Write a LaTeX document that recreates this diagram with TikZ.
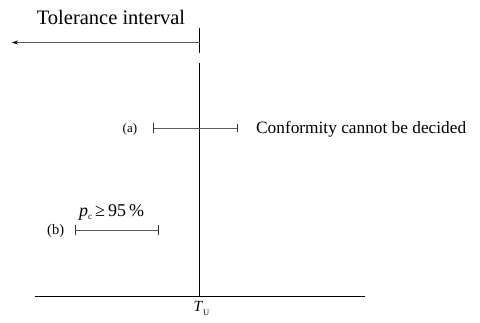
\documentclass[tikz,border=0pt]{standalone}
\usepackage{fontspec}
\setmainfont{Liberation Serif}
\usetikzlibrary{arrows.meta}
\tikzset{
  axisline/.style={line width=0.9pt, black},
  intline/.style={line width=0.9pt, black!65},
  endtick/.style={line width=0.9pt, black!80},
  lbl/.style={inner sep=0pt, anchor=base},
}
\begin{document}
\begin{tikzpicture}[x=1pt,y=-1pt]
\useasboundingbox (0,0) rectangle (480,323);
% top tolerance arrow
\coordinate (tiTop) at (199.5,28);
\coordinate (tiBot) at (199.5,53);
\coordinate (arrR) at (199.5,42.5);
\coordinate (arrL) at (12,42.5);
\draw[axisline] (tiTop) -- (tiBot);
\draw[intline, -{Stealth[length=6pt,width=4pt,black]}] (arrR) -- (arrL);
\node[lbl, font=\fontsize{20.5}{22}\selectfont] (ti) at (111,25) {Tolerance interval};
% main axes
\coordinate (vTop) at (199.5,63);
\coordinate (vBot) at (199.5,296);
\coordinate (hL) at (35,296);
\coordinate (hR) at (365,296);
\draw[axisline] (vTop) -- (vBot);
\draw[axisline] (hL) -- (hR);
\node[lbl, anchor=base west, font=\fontsize{15.5}{17}\selectfont] (tu) at (193.5,312) {\textit{T}\raisebox{-3.5pt}{\fontsize{8.5}{9}\selectfont U}};
% interval (a)
\coordinate (aL) at (153,128.5);
\coordinate (aR) at (237.5,128.5);
\draw[intline] (aL) -- (aR);
\draw[endtick] ([yshift=-5]aL) -- ([yshift=5]aL);
\draw[endtick] ([yshift=-4]aR) -- ([yshift=4]aR);
\node[lbl, anchor=base west, font=\fontsize{13}{14}\selectfont] (la) at (122.5,133) {(a)};
\node[lbl, anchor=base west, font=\fontsize{17.3}{19}\selectfont] (conf) at (256,134) {Conformity cannot be decided};
% interval (b)
\coordinate (bL) at (75,230.5);
\coordinate (bR) at (158,230.5);
\draw[intline] (bL) -- (bR);
\draw[endtick] ([yshift=-5]bL) -- ([yshift=5]bL);
\draw[endtick] ([yshift=-5]bR) -- ([yshift=5]bR);
\node[lbl, anchor=base west, font=\fontsize{14.5}{16}\selectfont] (lb) at (47,235) {(b)};
\node[lbl, anchor=base west, font=\fontsize{18}{20}\selectfont] (pc) at (79,217) {\textit{p}\raisebox{-2.5pt}{\fontsize{9}{10}\selectfont c}\,≥\,95\,\%};
\end{tikzpicture}
\end{document}
